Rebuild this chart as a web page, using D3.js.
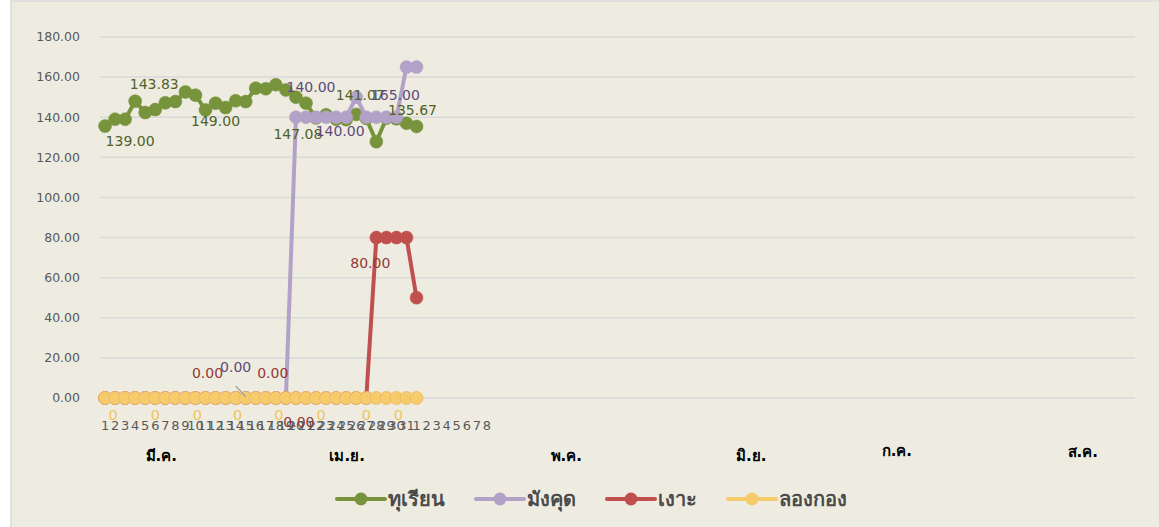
<!DOCTYPE html>
<html>
<head>
<meta charset="utf-8">
<script src="https://cdn.jsdelivr.net/npm/d3@7"></script>
<style>
  body { margin: 0; background: #fff; }
</style>
</head>
<body>
<div id="chart"></div>
<script>
// category labels (day of month), first 31 = March, then April 1-8
const dayLabels = ["1","2","3","4","5","6","7","8","9","10","11","12","13","14","15","16",
  "17","18","19","20","21","22","23","24","25","26","27","28","29","30","31",
  "1","2","3","4","5","6","7","8"];
const categoryCount = 103;

const monthNames = ["มี.ค.", "เม.ย.", "พ.ค.", "มิ.ย.", "ก.ค.", "ส.ค."];
// category position (index) each month label is centred on
const monthCenters = [5.6, 24.1, 45.9, 64.3, 78.8, 97.3];

const seriesNames = ["ทุเรียน", "มังคุด", "เงาะ", "ลองกอง"];

const durian = [135.6, 139.0, 139.0, 148.0, 142.3, 143.8, 147.2, 147.8, 152.6, 151.0,
  143.6, 147.0, 144.8, 148.2, 147.8, 154.5, 154.2, 156.2, 153.6, 150.0,
  147.0, 139.6, 141.2, 139.0, 138.8, 141.4, 139.4, 127.8, 139.5, 139.2,
  137.0, 135.4];
const mangosteen = [0, 0, 0, 0, 0, 0, 0, 0, 0, 0, 0, 0, 0, 0, 0, 0, 0, 0, 0,
  140, 140, 140, 140, 140, 140, 150, 140, 140, 140, 140, 165, 165];
const rambutan = [0, 0, 0, 0, 0, 0, 0, 0, 0, 0, 0, 0, 0, 0, 0, 0, 0, 0, 0, 0,
  0, 0, 0, 0, 0, 0, 0, 80, 80, 80, 80, 50];
const longkong = [0, 0, 0, 0, 0, 0, 0, 0, 0, 0, 0, 0, 0, 0, 0, 0, 0, 0, 0, 0,
  0, 0, 0, 0, 0, 0, 0, 0, 0, 0, 0, 0];

const yTicks = [0, 20, 40, 60, 80, 100, 120, 140, 160, 180];

// data labels: which point, what text
const durianLabelIdx = [2, 5, 11, 19, 25, 31];
const durianLabelText = ["139.00", "143.83", "149.00", "147.08", "141.07", "135.67"];
const mangosteenLabelIdx = [14, 20, 23, 29];
const mangosteenLabelText = ["0.00", "140.00", "140.00", "165.00"];
const rambutanLabelIdx = [10, 16, 19, 27];
const rambutanLabelText = ["0.00", "0.00", "0.00", "80.00"];
const longkongLabelIdx = [1, 5, 9, 13, 17, 21, 26, 29];
const longkongLabelText = ["0", "0", "0", "0", "0", "0", "0", "0"];

// ---- layout / style ----
const width = 1159, height = 527;
const colors = ["#77933C", "#B3A2C7", "#C0504D", "#F5CB6B"];
const labelColors = ["#4F6228", "#5F497A", "#953735", "#F2C45A"];
// manual label nudges (dx, dy from the point), like dragged Excel labels
const labelNudges = [
  [[5, 22], [-1, -26], [0, 18], [2, 37], [4, -19], [-4, -16]],
  [[-10, -31], [5, -30], [4, 14], [-1, -22]],
  [[2, -25], [7, -25], [3, 24], [-6, 26]],
  [[-2, 17], [0, 17], [2, 17], [2, 17], [3, 17], [5, 17], [0, 17], [2, 17]]
];
// small vertical nudge for month labels without tall glyphs
const monthNudge = [0, 0, 0, 0, -5, -4];

const svg = d3.select("#chart").append("svg")
  .attr("width", width)
  .attr("height", height)
  .style("font-family", "'DejaVu Sans', sans-serif");

svg.append("rect")
  .attr("x", 11).attr("y", 1)
  .attr("width", width).attr("height", height + 10)
  .attr("fill", "#EEECE1")
  .attr("stroke", "#D9D9D9")
  .attr("stroke-width", 1.5);

const x = d3.scaleBand()
  .domain(d3.range(categoryCount))
  .range([100, 1135]);
const xc = i => x(0) + x.step() * i + x.bandwidth() / 2;

const y = d3.scaleLinear()
  .domain([0, 180])
  .range([398, 37]);

// gridlines
svg.append("g")
  .selectAll("line")
  .data(yTicks)
  .join("line")
  .attr("x1", x.range()[0])
  .attr("x2", x.range()[1])
  .attr("y1", d => y(d))
  .attr("y2", d => y(d))
  .attr("stroke", "#D9D9D9")
  .attr("stroke-width", 1.5);

// y axis labels
svg.append("g")
  .attr("font-size", 12.5)
  .attr("fill", "#595959")
  .attr("text-anchor", "end")
  .selectAll("text")
  .data(yTicks)
  .join("text")
  .attr("x", 80)
  .attr("y", d => y(d))
  .attr("dy", "0.35em")
  .text(d => d3.format(".2f")(d));

// day labels
svg.append("g")
  .attr("font-size", 13)
  .attr("fill", "#595959")
  .attr("text-anchor", "middle")
  .selectAll("text")
  .data(dayLabels)
  .join("text")
  .attr("x", (d, i) => xc(i))
  .attr("y", 425)
  .attr("dy", "0.35em")
  .text(d => d);

// month labels
svg.append("g")
  .attr("font-size", 15)
  .attr("font-weight", "bold")
  .attr("fill", "#000")
  .attr("text-anchor", "middle")
  .selectAll("text")
  .data(monthNames)
  .join("text")
  .attr("x", (d, i) => xc(monthCenters[i]))
  .attr("y", (d, i) => 461 + monthNudge[i])
  .text(d => d);

// series
const allSeries = [durian, mangosteen, rambutan, longkong];
const line = d3.line()
  .x((d, i) => xc(i))
  .y(d => y(d));

allSeries.forEach((s, k) => {
  const g = svg.append("g");
  g.append("path")
    .datum(s)
    .attr("fill", "none")
    .attr("stroke", colors[k])
    .attr("stroke-width", 4)
    .attr("stroke-linejoin", "round")
    .attr("stroke-linecap", "round")
    .attr("d", line);
  g.selectAll("circle")
    .data(s)
    .join("circle")
    .attr("cx", (d, i) => xc(i))
    .attr("cy", d => y(d))
    .attr("r", 6.5)
    .attr("fill", colors[k])
    .attr("stroke", k === 3 ? "#EDB565" : colors[k])
    .attr("stroke-width", k === 3 ? 0.8 : 0.5);
});

// leader line for the dragged mangosteen 0.00 label
svg.append("line")
  .attr("x1", xc(mangosteenLabelIdx[0]) - 10)
  .attr("y1", y(mangosteen[mangosteenLabelIdx[0]]) - 12)
  .attr("x2", xc(mangosteenLabelIdx[0]))
  .attr("y2", y(mangosteen[mangosteenLabelIdx[0]]) - 1)
  .attr("stroke", "#A6A6A6")
  .attr("stroke-width", 1.5);

// data labels
const labelSets = [
  [durianLabelIdx, durianLabelText],
  [mangosteenLabelIdx, mangosteenLabelText],
  [rambutanLabelIdx, rambutanLabelText],
  [longkongLabelIdx, longkongLabelText]
];
labelSets.forEach(([idx, txt], k) => {
  svg.append("g")
    .attr("font-size", k === 3 ? 14.5 : 14)
    .attr("fill", labelColors[k])
    .attr("text-anchor", "middle")
    .selectAll("text")
    .data(idx)
    .join("text")
    .attr("x", (d, j) => xc(d) + labelNudges[k][j][0])
    .attr("y", (d, j) => y(allSeries[k][d]) + labelNudges[k][j][1])
    .attr("dy", "0.35em")
    .text((d, j) => txt[j]);
});

// legend
const legend = svg.append("g")
  .attr("font-size", 20)
  .attr("font-weight", 600)
  .attr("fill", "#4A4A4A");
const gap = 31;
let lx = 0;
seriesNames.forEach((name, k) => {
  const it = legend.append("g");
  it.append("line")
    .attr("x1", 0).attr("x2", 48)
    .attr("stroke", colors[k])
    .attr("stroke-width", 4)
    .attr("stroke-linecap", "round");
  it.append("circle")
    .attr("cx", 24).attr("r", 6.5)
    .attr("fill", colors[k]);
  const t = it.append("text")
    .attr("x", 51)
    .attr("dy", "0.35em")
    .text(name);
  const w = 51 + t.node().getComputedTextLength();
  it.attr("transform", `translate(${lx},0)`);
  lx += w + gap;
});
const legendWidth = lx - gap;
legend.attr("transform", `translate(${592 - legendWidth / 2},499)`);
</script>
</body>
</html>
